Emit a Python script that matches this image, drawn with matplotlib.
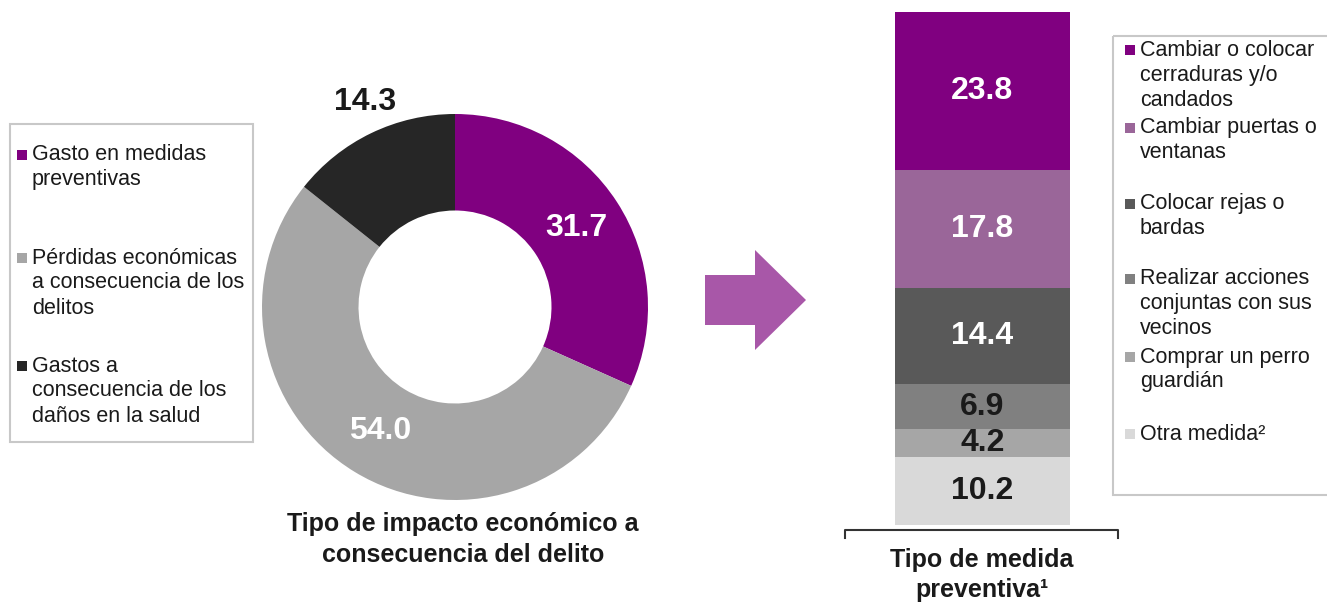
import numpy as np
import matplotlib.pyplot as plt
from matplotlib.patches import Rectangle, Polygon

plt.rcParams['font.family'] = ['Liberation Sans', 'DejaVu Sans']

# Donut data
impact_labels = ['Gasto en medidas\npreventivas',
                 'Pérdidas económicas\na consecuencia de los\ndelitos',
                 'Gastos a\nconsecuencia de los\ndaños en la salud']
impact_values = [31.7, 54.0, 14.3]
impact_colors = ['#800080', '#a6a6a6', '#262626']

# Stacked bar data (bottom to top)
measure_labels = ['Otra medida²',
                  'Comprar un perro\nguardián',
                  'Realizar acciones\nconjuntas con sus\nvecinos',
                  'Colocar rejas o\nbardas',
                  'Cambiar puertas o\nventanas',
                  'Cambiar o colocar\ncerraduras y/o\ncandados']
measure_values = [10.2, 4.2, 6.9, 14.4, 17.8, 23.8]
measure_colors = ['#d9d9d9', '#a6a6a6', '#808080', '#595959', '#9a6699', '#800080']
measure_textcolors = ['#1a1a1a', '#1a1a1a', '#1a1a1a', 'white', 'white', 'white']

W, H = 1327, 604
fig = plt.figure(figsize=(W / 100, H / 100), dpi=100)

# overlay axes in pixel coordinates
ov = fig.add_axes([0, 0, 1, 1])
ov.set_xlim(0, W)
ov.set_ylim(H, 0)
ov.axis('off')

# donut
cx, cy, r = 455, 307, 193
ax = fig.add_axes([(cx - r) / W, (H - cy - r) / H, 2 * r / W, 2 * r / H])
wedges, _ = ax.pie(impact_values, colors=impact_colors, startangle=90,
                   counterclock=False, radius=1,
                   wedgeprops=dict(width=0.5, linewidth=0))
ax.set_xlim(-1, 1)
ax.set_ylim(-1, 1)
ax.axis('off')
total = sum(impact_values)
start = 90.0
for i, v in enumerate(impact_values):
    mid = np.radians(start - 360 * v / total / 2)
    start -= 360 * v / total
    if i == 2:
        rr, col, mid = 1.16, '#1a1a1a', mid - np.radians(2)
    else:
        rr, col = 0.75, 'white'
    ax.text(rr * np.cos(mid), rr * np.sin(mid), f'{v:.1f}', ha='center',
            va='center', fontsize=23, fontweight='bold', color=col)

# stacked bar
bx0, bx1, by0, by1 = 895, 1070, 12, 525
bax = fig.add_axes([bx0 / W, (H - by1) / H, (bx1 - bx0) / W, (by1 - by0) / H])
bottom = 0
for v, c, tc in zip(measure_values, measure_colors, measure_textcolors):
    bax.bar(0.5, v, width=1.0, bottom=bottom, color=c, linewidth=0)
    bax.text(0.5, bottom + v / 2, f'{v:.1f}', ha='center', va='center',
             fontsize=23, fontweight='bold', color=tc)
    bottom += v
bax.set_xlim(0, 1)
bax.set_ylim(0, sum(measure_values))
bax.axis('off')

# legends
def legend_block(x0, entries, colors, tops):
    for lab, col, y in zip(entries, colors, tops):
        ov.add_patch(Rectangle((x0, y - 5), 10, 10, color=col, lw=0))
        for k, line in enumerate(lab.split('\n')):
            ov.text(x0 + 15, y + 25 * k, line, ha='left', va='center',
                    fontsize=15.5, color='#1a1a1a')

ov.add_patch(Rectangle((10, 124), 243, 318, fill=False, ec='#c8c8c8', lw=1.5))
legend_block(17, impact_labels, impact_colors, [155, 258, 366])

ov.add_patch(Rectangle((1113, 36), 220, 459, fill=False, ec='#c8c8c8', lw=1.5))
legend_block(1125, measure_labels[::-1], measure_colors[::-1],
             [50, 128, 204, 279, 357, 434])

# arrow
ov.add_patch(Polygon([(705, 275), (755, 275), (755, 250), (806, 300),
                      (755, 350), (755, 325), (705, 325)],
                     closed=True, color='#a857a8', lw=0))

# bracket under the bar
ov.plot([845, 845, 1118, 1118], [538, 530, 530, 538], color='#333333', lw=1.5)

# titles
title_kw = dict(ha='center', va='center', fontsize=18, fontweight='bold',
                color='#1a1a1a')
ov.text(463, 524, 'Tipo de impacto económico a', **title_kw)
ov.text(463, 555, 'consecuencia del delito', **title_kw)
ov.text(982, 560, 'Tipo de medida', **title_kw)
ov.text(982, 590, 'preventiva¹', **title_kw)

fig.savefig('out.png', dpi=100)
